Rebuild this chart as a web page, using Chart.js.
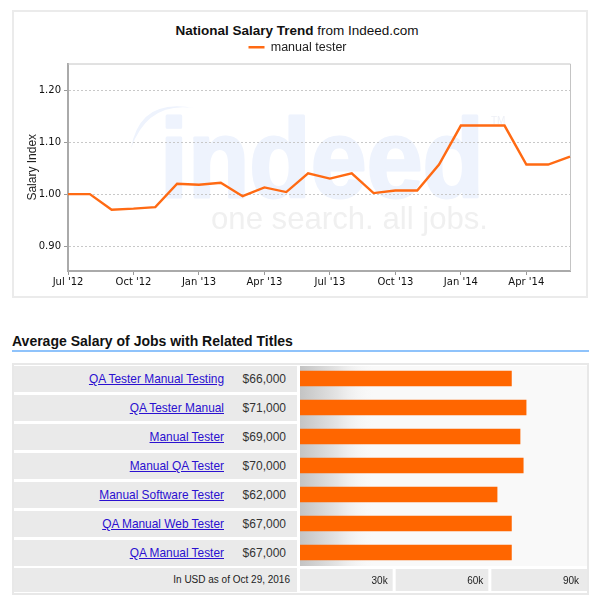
<!DOCTYPE html>
<html><head><meta charset="utf-8">
<script src="https://cdn.jsdelivr.net/npm/chart.js@4"></script>
<style>
html,body{margin:0;padding:0;background:#fff;width:602px;height:602px;overflow:hidden;font-family:"Liberation Sans",Arial,sans-serif}
.abs{position:absolute;box-sizing:border-box}
#box1{left:12px;top:10px;width:576px;height:288px;border:2px solid #ebebeb}
#title{left:12px;top:22px;width:570px;text-align:center;font-size:13.5px;color:#111;line-height:17px}
#heading{left:12px;top:333px;font-size:14px;font-weight:bold;color:#111;line-height:16px;white-space:nowrap}
#rule{left:12px;top:350px;width:577px;height:2px;background:#8fc3fb}
#box2{left:12px;top:363px;width:577px;height:232px;border:2px solid #e8e8e8}
.cell{left:14px;width:283px;height:26px;background:#eaeaea;font-size:11.9px;line-height:26px}
.cell a{position:absolute;right:73px;color:#2a10d0;text-decoration:underline;white-space:nowrap}
.cell span{position:absolute;right:11px;color:#333;font-size:12px}
#note{left:14px;top:568px;width:283px;height:24px;background:#eaeaea;font-size:10px;line-height:24px;text-align:right;padding-right:7px;color:#222}
canvas{display:block}
</style></head><body>
<div class="abs" id="box1"></div>
<div class="abs" id="title"><b>National Salary Trend</b> from Indeed.com</div>
<div class="abs" style="left:12px;top:10px;width:576px;height:288px"><canvas id="trend" width="576" height="288"></canvas></div>
<div class="abs" id="heading">Average Salary of Jobs with Related Titles</div>
<div class="abs" id="rule"></div>
<div class="abs" id="box2"></div>
<div id="rows"></div>
<div class="abs" id="note">In USD as of Oct 29, 2016</div>
<div class="abs" style="left:292px;top:364px;width:303px;height:229px"><canvas id="bars" width="303" height="229"></canvas></div>
<script>
const months = ["Jul '12","Aug '12","Sep '12","Oct '12","Nov '12","Dec '12","Jan '13","Feb '13","Mar '13","Apr '13","May '13","Jun '13","Jul '13","Aug '13","Sep '13","Oct '13","Nov '13","Dec '13","Jan '14","Feb '14","Mar '14","Apr '14","May '14","Jun '14"];
const salaryIndex = [1.000,1.000,0.970,0.972,0.975,1.020,1.018,1.022,0.996,1.013,1.004,1.040,1.030,1.040,1.002,1.007,1.007,1.057,1.132,1.132,1.132,1.057,1.057,1.072];
const indexTicks = [0.90,1.00,1.10,1.20];
const seriesName = "manual tester";
const jobTitles = ["QA Tester Manual Testing","QA Tester Manual","Manual Tester","Manual QA Tester","Manual Software Tester","QA Manual Web Tester","QA Manual Tester"];
const salaryLabels = ["$66,000","$71,000","$69,000","$70,000","$62,000","$67,000","$67,000"];
const barValues = [66300,70900,69000,70000,61800,66300,66300];

const rows = document.getElementById('rows');
jobTitles.forEach((t,i)=>{
  const d=document.createElement('div');
  d.className='abs cell';
  d.style.top=(366+29*i)+'px';
  const a=document.createElement('a');a.href='#';a.textContent=t;
  const s=document.createElement('span');s.textContent=salaryLabels[i];
  d.append(a,s);rows.append(d);
});

const watermark = {
  id:'watermark',
  beforeDraw(c){
    const g=c.ctx,a=c.chartArea;
    g.save();
    g.fillStyle='#eef3fd';
    g.strokeStyle='#eef3fd';
    g.lineWidth=3;
    g.lineJoin='round';
    g.textBaseline='alphabetic';
    g.font='bold 112px "Liberation Sans"';
    g.fillText('indeed',a.left+92,a.top+133,324);
    g.strokeText('indeed',a.left+92,a.top+133,324);
    g.font='10px "Liberation Sans"';
    g.fillStyle='#eef0f6';
    g.fillText('TM',a.left+423,a.top+60,18);
    g.fillStyle='#f0f0f0';
    g.font='31.5px "Liberation Sans"';
    g.fillText('one search. all jobs.',a.left+143,a.top+165,277);
    g.fillStyle='#eef3fd';
    g.beginPath();
    g.moveTo(a.left+63,a.top+85);
    g.quadraticCurveTo(a.left+72,a.top+33,a.left+128,a.top+45);
    g.quadraticCurveTo(a.left+80,a.top+37,a.left+63,a.top+85);
    g.fill();
    g.restore();
  },
  beforeDatasetsDraw(c){
    const g=c.ctx,a=c.chartArea;
    g.save();
    g.strokeStyle='#c4c4c4';
    g.lineWidth=1;
    g.beginPath();
    g.moveTo(a.left,a.top+.5);
    g.lineTo(a.right+.5,a.top+.5);
    g.lineTo(a.right+.5,a.bottom);
    g.stroke();
    g.restore();
  }
};

new Chart(document.getElementById('trend'),{
  type:'line',
  plugins:[watermark],
  data:{labels:months,datasets:[{label:seriesName,data:salaryIndex,borderColor:'#ff6a13',backgroundColor:'#ff6a13',borderWidth:2.4,pointRadius:0,tension:0}]},
  options:{
    responsive:false,animation:false,
    layout:{padding:{top:26,right:18,bottom:9,left:13}},
    plugins:{
      title:{display:false},tooltip:{enabled:false},
      legend:{display:true,position:'top',labels:{usePointStyle:true,pointStyle:'line',pointStyleWidth:16,padding:5,color:'#222',font:{family:'"Liberation Sans"',size:12.5}}}
    },
    scales:{
      x:{
        type:'category',offset:false,
        border:{color:'#aaa',width:2},
        grid:{drawOnChartArea:false,drawTicks:true,tickLength:4,tickColor:ctx=>ctx.index%3===0?'#999':'rgba(0,0,0,0)'},
        ticks:{autoSkip:false,maxRotation:0,minRotation:0,padding:1,color:'#111',font:{family:'"DejaVu Sans"',size:10},
          callback(v,i){return i%3===0?months[i]:'';}}
      },
      y:{
        min:0.852,max:1.2515,
        afterFit(s){s.width=43;},
        afterBuildTicks(s){s.ticks=indexTicks.map(value=>({value}));},
        border:{color:'#aaa',width:2,dash:[2,2]},
        grid:{color:'#c8c8c8',lineWidth:1,tickLength:4,tickColor:'#999'},
        title:{display:true,text:'Salary Index',color:'#222',padding:0,font:{family:'"Liberation Sans"',size:12}},
        ticks:{padding:3,color:'#111',font:{family:'"DejaVu Sans"',size:10},
          callback(v){return Number(v).toFixed(2);}}
      }
    }
  }
});

const barBack = {
  id:'barBack',
  beforeDraw(c){
    const g=c.ctx,a=c.chartArea,x=c.scales.x;
    g.save();
    const top=a.top+2,bot=a.bottom-1;
    g.fillStyle='#f9f9f9';
    g.fillRect(a.left,top,a.right-a.left,bot-top);
    const gr=g.createLinearGradient(a.left,0,a.left+75,0);
    gr.addColorStop(0,'#c4c4c4');gr.addColorStop(.5,'#e4e4e4');gr.addColorStop(1,'rgba(249,249,249,0)');
    g.fillStyle=gr;
    g.fillRect(a.left,top,75,bot-top);
    g.fillStyle='#eaeaea';
    let prev=a.left;
    x.ticks.forEach(t=>{
      if(t.value===0)return;
      const px=x.getPixelForValue(t.value);
      g.fillRect(prev,bot+3,px-prev-(t.value===x.max?0:3),c.height-bot-4-1);
      prev=px;
    });
    g.restore();
  }
};
new Chart(document.getElementById('bars'),{
  type:'bar',
  plugins:[barBack],
  data:{labels:jobTitles,datasets:[{data:barValues,backgroundColor:'#ff6600',barThickness:15,categoryPercentage:1,barPercentage:1}]},
  options:{
    indexAxis:'y',responsive:false,animation:false,
    layout:{padding:0},
    plugins:{legend:{display:false},tooltip:{enabled:false}},
    scales:{
      y:{display:false},
      x:{min:0,max:90000,
        afterFit(s){s.height=26;},
        border:{display:false},
        grid:{display:false,drawTicks:false},
        ticks:{stepSize:30000,align:'end',labelOffset:-8,padding:8,maxRotation:0,color:'#222',font:{family:'"Liberation Sans"',size:10},
          callback(v){return v===0?'':(v/1000)+'k';}}
      }
    }
  }
});
</script>
</body></html>
